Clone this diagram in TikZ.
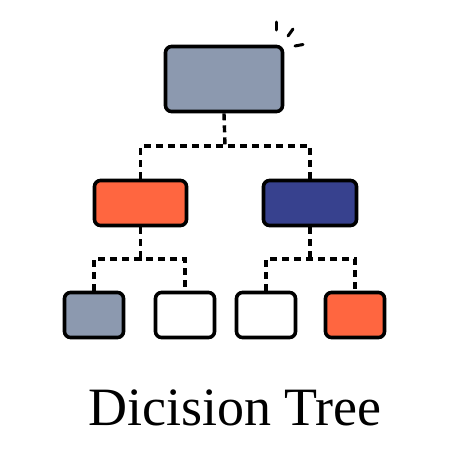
\documentclass[tikz,border=0pt]{standalone}
\usepackage{fontspec}
\setmainfont{Liberation Serif}
\definecolor{slate}{HTML}{8C99AF}
\definecolor{coral}{HTML}{FF6640}
\definecolor{navy}{HTML}{37418E}
\begin{document}
\begin{tikzpicture}[x=1pt,y=-1pt,
  box/.style={draw=black,line width=3.6pt,rounded corners=6pt,inner sep=0pt},
  link/.style={draw=black,line width=3.4pt,dash pattern=on 7pt off 5pt},
  spark/.style={draw=black,line width=3pt,line cap=round}]
\useasboundingbox (0,0) rectangle (450,450);
% top
\node[box,fill=slate,minimum width=117pt,minimum height=65pt] (root) at (224,79) {};
% middle
\node[box,fill=coral,minimum width=92pt,minimum height=45pt] (ml) at (140.5,203) {};
\node[box,fill=navy,minimum width=93pt,minimum height=45pt] (mr) at (310,203) {};
% bottom
\node[box,fill=slate,minimum width=59pt,minimum height=45pt] (b1) at (94,315) {};
\node[box,fill=white,minimum width=59pt,minimum height=45pt] (b2) at (185,315) {};
\node[box,fill=white,minimum width=59pt,minimum height=45pt] (b3) at (266,315) {};
\node[box,fill=coral,minimum width=59pt,minimum height=45pt] (b4) at (355,315) {};
% connectors
\coordinate (j1) at (225,146);
\coordinate (j2) at (140.5,259);
\coordinate (j3) at (310,259);
\draw[link] (root.south) -- (j1);
\draw[link] (ml.north) |- (j1) -| (mr.north);
\draw[link] (ml.south) -- (j2);
\draw[link] (b1.north) |- (j2) -| (b2.north);
\draw[link] (mr.south) -- (j3);
\draw[link] (b3.north) |- (j3) -| (b4.north);
% sparks
\coordinate (s1a) at (276,22); \coordinate (s1b) at (276,30);
\coordinate (s2a) at (288,36); \coordinate (s2b) at (293,29);
\coordinate (s3a) at (295,46); \coordinate (s3b) at (303,44.5);
\draw[spark] (s1a) -- (s1b);
\draw[spark] (s2a) -- (s2b);
\draw[spark] (s3a) -- (s3b);
% title
\node[inner sep=0pt,anchor=base,font=\fontsize{54}{62}\selectfont] (title) at (235,425) {Dicision Tree};
\end{tikzpicture}
\end{document}
